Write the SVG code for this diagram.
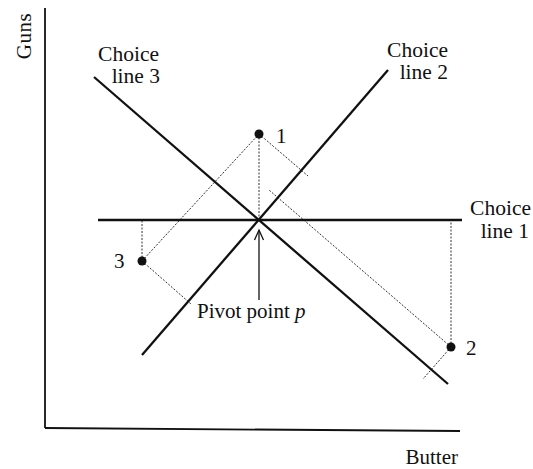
<svg xmlns="http://www.w3.org/2000/svg" width="533" height="469" viewBox="0 0 533 469">
<style>
text{font-family:"Liberation Serif","Times New Roman",serif;font-size:21px;fill:#111}
.lbl{font-size:21.5px}
.axis{stroke:#111;stroke-width:1.8;fill:none}
.choice{stroke:#111;stroke-width:2.3;fill:none;stroke-linecap:butt}
.proj{stroke:#333;stroke-width:1;stroke-dasharray:2 1.5;fill:none}
.pt{fill:#111}
</style>
<rect width="533" height="469" fill="#fff"/>
<g id="axes">
<line class="axis" x1="45" y1="8" x2="45" y2="428"/>
<line class="axis" x1="45" y1="428" x2="460" y2="431"/>
<text transform="translate(31,36) rotate(-90)" text-anchor="middle" font-size="23" letter-spacing="0.5">Guns</text>
<text x="458" y="464" text-anchor="end" font-size="22">Butter</text>
</g>
<g id="connectors">
<line class="proj" x1="259" y1="134" x2="259" y2="220"/>
<line class="proj" x1="142" y1="261" x2="142" y2="220"/>
<line class="proj" x1="451" y1="347" x2="451" y2="220"/>
<line class="proj" x1="142" y1="261" x2="259" y2="134"/>
<line class="proj" x1="259" y1="134" x2="308" y2="176"/>
<line class="proj" x1="451" y1="347" x2="269" y2="190"/>
<line class="proj" x1="451" y1="347" x2="423" y2="379"/>
<line class="proj" x1="142" y1="261" x2="191" y2="304"/>
<g id="pivot-arrow" stroke="#111" stroke-width="1.3" fill="none">
<line x1="259" y1="300" x2="259" y2="231"/>
<path d="M254.5,240 L259,230 L263.5,240"/>
</g>
</g>
<g id="choice-line-1">
<line class="choice" x1="98" y1="220" x2="462" y2="220"/>
<text class="lbl" x="531" y="215" text-anchor="end">Choice</text>
<text class="lbl" x="529" y="238" text-anchor="end">line 1</text>
</g>
<g id="choice-line-2">
<line class="choice" x1="142" y1="355" x2="388" y2="70"/>
<text class="lbl" x="448" y="57" text-anchor="end">Choice</text>
<text class="lbl" x="448" y="79" text-anchor="end">line 2</text>
</g>
<g id="choice-line-3">
<line class="choice" x1="94" y1="77" x2="448" y2="384"/>
<text class="lbl" x="159" y="61" text-anchor="end">Choice</text>
<text class="lbl" x="160" y="83" text-anchor="end">line 3</text>
</g>
<g id="point-1">
<circle class="pt" cx="259" cy="134" r="4.5"/>
<text x="276" y="143">1</text>
</g>
<g id="point-2">
<circle class="pt" cx="451" cy="347" r="4.5"/>
<text x="466" y="355">2</text>
</g>
<g id="point-3">
<circle class="pt" cx="142" cy="261" r="4.5"/>
<text x="114" y="268">3</text>
</g>
<g id="pivot">
<text x="197" y="318" font-size="21.5">Pivot point <tspan font-style="italic">p</tspan></text>
</g>
</svg>
